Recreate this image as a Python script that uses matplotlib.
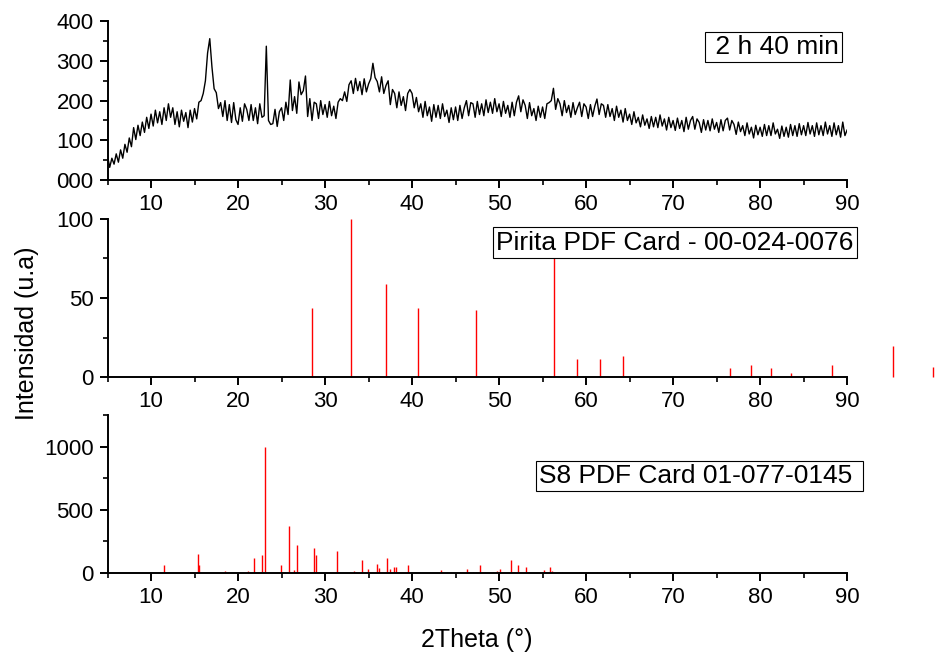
import numpy as np
import matplotlib
matplotlib.use('Agg')
import matplotlib.pyplot as plt
from matplotlib.ticker import MultipleLocator, FuncFormatter

plt.rcParams['font.family'] = ['Liberation Sans', 'DejaVu Sans']

# XRD scan, 2 h 40 min, 5-90 deg every 0.25 deg
theta_start, theta_step = 5.0, 0.25
scan = [
    60, 32, 55, 40, 66, 45, 76, 55, 90, 70, 106, 84, 132, 102, 138, 112,
    146, 120, 158, 130, 166, 136, 176, 144, 172, 140, 182, 150, 192, 158, 182, 140,
    172, 134, 176, 148, 170, 132, 176, 146, 180, 154, 196, 200, 218, 250, 320, 356,
    285, 230, 220, 180, 195, 160, 200, 150, 190, 145, 195, 152, 140, 182, 148, 192,
    178, 150, 190, 150, 182, 142, 192, 158, 162, 337, 150, 140, 142, 178, 135, 172,
    182, 150, 196, 165, 252, 175, 210, 168, 247, 215, 225, 262, 160, 205, 150, 196,
    192, 155, 200, 165, 190, 158, 198, 162, 186, 155, 196, 205, 200, 222, 198, 240,
    250, 218, 256, 225, 248, 215, 255, 222, 242, 255, 294, 258, 248, 222, 260, 218,
    238, 250, 190, 228, 218, 182, 222, 188, 210, 175, 218, 228, 218, 182, 208, 172,
    192, 158, 198, 162, 184, 148, 190, 158, 188, 155, 192, 160, 176, 145, 182, 152,
    184, 150, 188, 155, 182, 200, 162, 195, 192, 158, 198, 165, 192, 162, 202, 170,
    196, 168, 205, 172, 192, 160, 198, 168, 188, 158, 196, 162, 196, 212, 172, 202,
    188, 155, 195, 162, 180, 150, 186, 158, 184, 155, 192, 195, 200, 231, 178, 205,
    192, 162, 200, 170, 188, 158, 195, 165, 182, 196, 160, 192, 184, 155, 190, 160,
    186, 204, 165, 192, 188, 158, 190, 160, 180, 150, 186, 158, 176, 146, 180, 150,
    166, 140, 172, 144, 158, 134, 164, 138, 154, 130, 160, 134, 158, 132, 164, 136,
    154, 126, 158, 132, 150, 125, 156, 130, 150, 122, 158, 128, 150, 160, 128, 154,
    145, 120, 152, 126, 150, 124, 154, 128, 145, 120, 152, 124, 150, 156, 126, 150,
    140, 115, 146, 122, 137, 112, 144, 116, 133, 106, 138, 114, 133, 110, 140, 112,
    137, 112, 144, 116, 128, 105, 136, 110, 133, 108, 140, 112, 137, 110, 142, 114,
    137, 112, 145, 116, 137, 110, 144, 114, 137, 112, 146, 116, 137, 110, 144, 114,
    137, 108, 146, 112, 126,
]

# Pyrite reference card 00-024-0076
pyr_pos = [28.47, 33.0, 37.05, 40.7, 47.4, 56.29, 59.0, 61.65, 64.25,
           76.55, 78.9, 81.27, 83.6, 88.3, 95.25, 99.9]
pyr_int = [43.5, 100, 58.7, 43.5, 42.4, 75, 11.4, 11.4, 13.5,
           5.5, 7.6, 5.5, 2.7, 7.6, 19.6, 6.5]

# S8 reference card 01-077-0145
s8_pos = [11.46, 15.4, 15.55, 18.47, 21.2, 21.85, 22.7, 23.07, 24.95, 25.9,
          26.4, 26.78, 28.7, 29.0, 29.28, 31.4, 32.33, 33.33, 33.5, 34.25,
          34.97, 35.94, 36.17, 37.13, 37.47, 37.93, 38.1, 39.5, 40.0, 40.4,
          43.3, 44.06, 44.48, 45.2, 46.36, 47.05, 47.3, 47.84, 48.4, 49.3,
          49.8, 50.15, 51.35, 51.7, 52.15, 53.1, 53.4, 55.2, 55.4, 55.9,
          56.1, 57.2, 59.2, 60.26, 61.3, 62.1, 62.6, 63.1, 63.9, 64.4,
          65.6, 66.0, 67.5, 68.3, 69.3, 70.2, 70.8, 71.2, 72.0, 73.3,
          74.1, 75.5, 76.3, 77.0, 79.6]
s8_int = [63, 153, 63, 16, 16, 119, 143, 1000, 63, 373,
          26, 220, 198, 143, 8, 175, 4, 16, 8, 103,
          32, 69, 40, 121, 30, 48, 47, 63, 8, 8,
          20, 12, 12, 12, 28, 10, 12, 65, 8, 8,
          16, 35, 105, 12, 63, 50, 12, 20, 12, 48,
          16, 6, 12, 8, 8, 6, 10, 8, 6, 8,
          6, 5, 6, 5, 6, 5, 5, 6, 5, 5,
          5, 4, 5, 5, 4]

theta = theta_start + theta_step * np.arange(len(scan))

fig = plt.figure(figsize=(9.35, 6.62), dpi=100)
ax1 = fig.add_axes([0.115, 0.728, 0.791, 0.240])
ax2 = fig.add_axes([0.115, 0.4305, 0.791, 0.2387])
ax3 = fig.add_axes([0.115, 0.1344, 0.791, 0.2387])

ax1.plot(theta, scan, color='black', lw=1.0)
ax2.vlines(pyr_pos, 0, pyr_int, colors='red', lw=1.0, clip_on=False)
ax3.vlines(s8_pos, 0, s8_int, colors='red', lw=1.0)

ax1.set_ylim(0, 400)
ax2.set_ylim(0, 100)
ax3.set_ylim(0, 1250)

ax1.yaxis.set_major_locator(MultipleLocator(100))
ax1.yaxis.set_minor_locator(MultipleLocator(50))
ax1.yaxis.set_major_formatter(FuncFormatter(lambda v, p: '%03d' % v))
ax2.yaxis.set_major_locator(MultipleLocator(50))
ax2.yaxis.set_minor_locator(MultipleLocator(25))
ax3.set_yticks([0, 500, 1000])
ax3.yaxis.set_minor_locator(MultipleLocator(250))

for ax in (ax1, ax2, ax3):
    ax.set_xlim(5, 90)
    ax.set_xticks(range(10, 91, 10))
    ax.set_xticks(range(5, 90, 10), minor=True)
    for side in ('top', 'right'):
        ax.spines[side].set_visible(False)
    for side in ('left', 'bottom'):
        ax.spines[side].set_linewidth(1.4)
    ax.tick_params(which='major', direction='out', length=6, width=1.4,
                   labelsize=16, pad=4)
    ax.tick_params(which='minor', direction='out', length=3.5, width=1.2)
    ax.patch.set_alpha(0)

box = dict(boxstyle='square,pad=0.12', fc='white', ec='black', lw=0.8)
ax1.text(0.901, 0.836, ' 2 h 40 min', transform=ax1.transAxes,
         ha='center', va='center', fontsize=19, bbox=box)
ax2.text(0.767, 0.851, 'Pirita PDF Card - 00-024-0076', transform=ax2.transAxes,
         ha='center', va='center', fontsize=19, bbox=box, clip_on=False)
ax3.text(0.8005, 0.614, 'S8 PDF Card 01-077-0145 ', transform=ax3.transAxes,
         ha='center', va='center', fontsize=19, bbox=box)

fig.text(0.029, 0.497, 'Intensidad (u.a)', rotation=90, ha='center',
         va='center', fontsize=18)
fig.text(0.51, 0.033, '2Theta (°)', ha='center', va='center', fontsize=18)

fig.savefig('out.png', dpi=100)
